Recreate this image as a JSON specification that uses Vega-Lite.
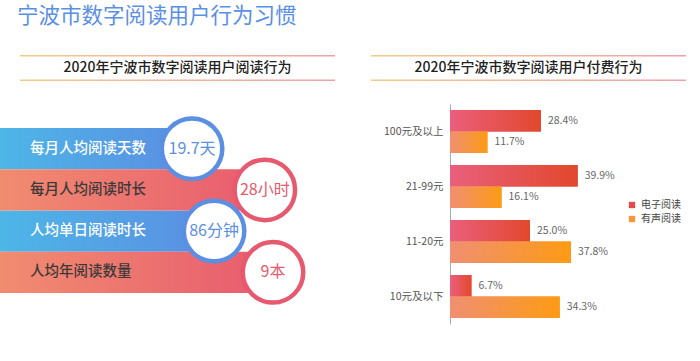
{
  "$schema": "https://vega.github.io/schema/vega-lite/v6.json",
  "background": "white",
  "padding": {"left": 0, "top": 5, "right": 5, "bottom": 5},
  "title": {"text": "宁波市数字阅读用户行为习惯", "anchor": "start", "dx": 17, "fontSize": 21.5, "color": "#5b8fe5", "font": "Noto Sans CJK SC", "fontWeight": "normal", "offset": 28},
  "columns": 2,
  "spacing": {"row": 23, "column": 15},
  "resolve": {"scale": {"color": "independent", "fill": "independent", "stroke": "independent"}, "legend": {"color": "independent"}},
  "concat": [
    {
      "width": 355, "height": 26,
      "data": {"values": [{"title": "2020年宁波市数字阅读用户阅读行为"}]},
      "layer": [
        {"mark": {"type": "rect", "color": {"gradient": "linear", "x1": 0, "y1": 0, "x2": 1, "y2": 0, "stops": [{"offset": 0, "color": "#f4c98c"}, {"offset": 1, "color": "#eba2a8"}]}},
         "encoding": {"x": {"datum": 0.0563, "type": "quantitative", "scale": {"domain": [0, 1]}, "axis": null}, "x2": {"datum": 0.9437},
                      "y": {"datum": 1, "type": "quantitative", "scale": {"domain": [0, 1]}, "axis": null}, "y2": {"datum": 0.94}}},
        {"mark": {"type": "rect", "color": {"gradient": "linear", "x1": 0, "y1": 0, "x2": 1, "y2": 0, "stops": [{"offset": 0, "color": "#f4c98c"}, {"offset": 1, "color": "#eba2a8"}]}},
         "encoding": {"x": {"datum": 0.0563, "type": "quantitative"}, "x2": {"datum": 0.9437},
                      "y": {"datum": 0.06, "type": "quantitative"}, "y2": {"datum": 0}}},
        {"mark": {"type": "text", "fontSize": 14, "fontWeight": 500, "color": "#222222", "baseline": "middle", "align": "center"},
         "encoding": {"x": {"datum": 0.5, "type": "quantitative"}, "y": {"datum": 0.5, "type": "quantitative"}, "text": {"field": "title"}}}
      ]
    },
    {
      "width": 160, "height": 26,
      "data": {"values": [{"title": "2020年宁波市数字阅读用户付费行为"}]},
      "layer": [
        {"mark": {"type": "rect", "color": {"gradient": "linear", "x1": 0, "y1": 0, "x2": 1, "y2": 0, "stops": [{"offset": 0, "color": "#f4c98c"}, {"offset": 1, "color": "#eba2a8"}]}},
         "encoding": {"x": {"datum": -0.494, "type": "quantitative", "scale": {"domain": [0, 1]}, "axis": null}, "x2": {"datum": 1.475},
                      "y": {"datum": 1, "type": "quantitative", "scale": {"domain": [0, 1]}, "axis": null}, "y2": {"datum": 0.94}}},
        {"mark": {"type": "rect", "color": {"gradient": "linear", "x1": 0, "y1": 0, "x2": 1, "y2": 0, "stops": [{"offset": 0, "color": "#f4c98c"}, {"offset": 1, "color": "#eba2a8"}]}},
         "encoding": {"x": {"datum": -0.494, "type": "quantitative"}, "x2": {"datum": 1.475},
                      "y": {"datum": 0.06, "type": "quantitative"}, "y2": {"datum": 0}}},
        {"mark": {"type": "text", "fontSize": 14, "fontWeight": 500, "color": "#222222", "baseline": "middle", "align": "center"},
         "encoding": {"x": {"datum": 0.4906, "type": "quantitative"}, "y": {"datum": 0.5, "type": "quantitative"}, "text": {"field": "title"}}}
      ]
    },
    {
      "width": 355, "height": 213,
      "data": {"values": [
        {"item": "每月人均阅读天数", "value": "19.7天", "length": 54.1},
        {"item": "每月人均阅读时长", "value": "28小时", "length": 74.6},
        {"item": "人均单日阅读时长", "value": "86分钟", "length": 60.3},
        {"item": "人均年阅读数量", "value": "9本", "length": 76.9}
      ]},
      "encoding": {
        "y": {"field": "item", "type": "nominal", "sort": null, "axis": null, "scale": {"domain": ["每月人均阅读天数", "每月人均阅读时长", "人均单日阅读时长", "人均年阅读数量"], "paddingInner": 0, "paddingOuter": 0.582}}
      },
      "layer": [
        {"transform": [{"filter": {"field": "item", "oneOf": ["每月人均阅读天数", "人均单日阅读时长"]}}],
         "mark": {"type": "bar", "color": {"gradient": "linear", "x1": 0, "y1": 0, "x2": 1, "y2": 0, "stops": [{"offset": 0, "color": "#4db6e7"}, {"offset": 1, "color": "#5b8de2"}]}},
         "encoding": {"x": {"field": "length", "type": "quantitative", "scale": {"domain": [0, 100]}, "axis": null}}},
        {"transform": [{"filter": {"field": "item", "oneOf": ["每月人均阅读时长", "人均年阅读数量"]}}],
         "mark": {"type": "bar", "color": {"gradient": "linear", "x1": 0, "y1": 0, "x2": 1, "y2": 0, "stops": [{"offset": 0, "color": "#f18c70"}, {"offset": 1, "color": "#e85b6f"}]}},
         "encoding": {"x": {"field": "length", "type": "quantitative"}}},
        {"mark": {"type": "point", "shape": "circle", "filled": true, "fill": "white", "opacity": 1, "strokeWidth": 4.5, "size": 3660},
         "encoding": {"x": {"field": "length", "type": "quantitative"},
                      "stroke": {"field": "item", "type": "nominal", "legend": null, "scale": {"domain": ["每月人均阅读天数", "每月人均阅读时长", "人均单日阅读时长", "人均年阅读数量"], "range": ["#5a8fe3", "#e6596e", "#5a8fe3", "#e6596e"]}}}},
        {"mark": {"type": "text", "align": "left", "baseline": "middle", "dx": 30, "fontSize": 14.5, "fontWeight": 500},
         "encoding": {"x": {"datum": 0, "type": "quantitative"}, "text": {"field": "item"},
                      "fill": {"field": "item", "type": "nominal", "legend": null, "scale": {"domain": ["每月人均阅读天数", "每月人均阅读时长", "人均单日阅读时长", "人均年阅读数量"], "range": ["#ffffff", "#3a3a3a", "#ffffff", "#3a3a3a"]}}}},
        {"mark": {"type": "text", "align": "center", "baseline": "middle", "fontSize": 16},
         "encoding": {"x": {"field": "length", "type": "quantitative"}, "text": {"field": "value"},
                      "color": {"field": "item", "type": "nominal", "legend": null, "scale": {"domain": ["每月人均阅读天数", "每月人均阅读时长", "人均单日阅读时长", "人均年阅读数量"], "range": ["#5a8fe3", "#e6596e", "#5a8fe3", "#e6596e"]}}}}
      ]
    },
    {
      "width": 160, "height": 220,
      "data": {"values": [
        {"range": "100元及以上", "type": "电子阅读", "pct": 0.284},
        {"range": "100元及以上", "type": "有声阅读", "pct": 0.117},
        {"range": "21-99元", "type": "电子阅读", "pct": 0.399},
        {"range": "21-99元", "type": "有声阅读", "pct": 0.161},
        {"range": "11-20元", "type": "电子阅读", "pct": 0.250},
        {"range": "11-20元", "type": "有声阅读", "pct": 0.378},
        {"range": "10元及以下", "type": "电子阅读", "pct": 0.067},
        {"range": "10元及以下", "type": "有声阅读", "pct": 0.343}
      ]},
      "encoding": {
        "y": {"field": "range", "type": "nominal", "sort": null, "scale": {"domain": ["100元及以上", "21-99元", "11-20元", "10元及以下"], "paddingInner": 0.22, "paddingOuter": 0.11},
              "axis": {"title": null, "ticks": false, "domainColor": "#aaaaaa", "labelColor": "#555555", "labelFontSize": 10.5, "labelPadding": 7, "minExtent": 79, "maxExtent": 79, "labelFont": "Noto Sans CJK SC"}},
        "yOffset": {"field": "type", "type": "nominal", "scale": {"domain": ["电子阅读", "有声阅读"], "paddingInner": 0, "paddingOuter": 0}},
        "x": {"field": "pct", "type": "quantitative", "scale": {"domain": [0, 0.5]}, "axis": null}
      },
      "layer": [
        {"mark": {"type": "bar"},
         "encoding": {"color": {"field": "type", "type": "nominal", "scale": {"domain": ["电子阅读", "有声阅读"], "range": ["#e24b4b", "#f7963a"]},
                                "legend": {"title": null, "orient": "none", "legendX": 177, "legendY": 96, "symbolType": "square", "symbolSize": 40, "labelFontSize": 10, "labelColor": "#444444", "labelFont": "Noto Sans CJK SC", "labelOffset": 4, "rowPadding": 4, "padding": 0}}}},
        {"transform": [{"filter": {"field": "type", "equal": "电子阅读"}}],
         "mark": {"type": "bar", "color": {"gradient": "linear", "x1": 0, "y1": 0, "x2": 1, "y2": 0, "stops": [{"offset": 0, "color": "#ea5f7d"}, {"offset": 1, "color": "#e2482c"}]}}},
        {"transform": [{"filter": {"field": "type", "equal": "有声阅读"}}],
         "mark": {"type": "bar", "color": {"gradient": "linear", "x1": 0, "y1": 0, "x2": 1, "y2": 0, "stops": [{"offset": 0, "color": "#f08f72"}, {"offset": 1, "color": "#fc9b14"}]}}},
        {"mark": {"type": "text", "align": "left", "baseline": "middle", "dx": 7, "fontSize": 10.5, "color": "#666666"},
         "encoding": {"text": {"field": "pct", "type": "quantitative", "format": ".1%"}}},
        {"data": {"values": [{"mark": "央广网"}]},
         "mark": {"type": "text", "align": "center", "baseline": "middle", "fontSize": 22, "fontWeight": "bold", "color": "#e2e2e2", "dy": 22},
         "encoding": {"x": {"datum": 0.62, "type": "quantitative"}, "y": {"datum": "10元及以下", "type": "nominal"}, "yOffset": {"datum": "有声阅读", "type": "nominal"}, "text": {"field": "mark"}}}
      ]
    }
  ],
  "config": {"view": {"stroke": null}, "font": "Noto Sans CJK SC"}
}
